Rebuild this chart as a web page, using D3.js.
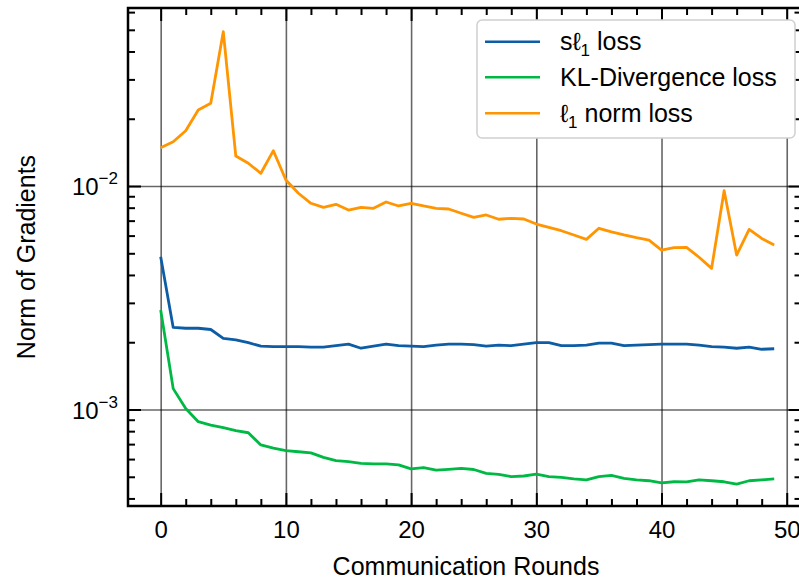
<!DOCTYPE html>
<meta charset="UTF-8">
<style>
    body { margin: 0; background: #fff; }
    text { font-family: "Liberation Sans", Arial, sans-serif; fill: #000; }
    .series { fill: none; stroke-width: 2.8px; stroke-linejoin: round; }
    .grid line { stroke: #000; stroke-opacity: 0.6; stroke-width: 1.6px; }
    .grid path, .ticks path, .labels path { display: none; }
    .ticks line { stroke: #000; stroke-width: 2px; }
    .labels line { display: none; }
</style>
<body>
<script src="https://d3js.org/d3.v7.min.js"></script>
<script>

// communication rounds (x)
var rounds = d3.range(0, 50);

// norm of gradients per loss
var sl1Loss = [0.00483, 0.00233, 0.00231, 0.00231, 0.00228, 0.00208, 0.00205, 0.00199, 0.00192, 0.00191,
    0.00191, 0.00191, 0.00190, 0.00190, 0.00193, 0.00196, 0.00188, 0.00192, 0.00196, 0.00193,
    0.00192, 0.00191, 0.00194, 0.00196, 0.00196, 0.00195, 0.00192, 0.00194, 0.00193, 0.00196,
    0.00199, 0.00199, 0.00193, 0.00193, 0.00194, 0.00198, 0.00198, 0.00193, 0.00194, 0.00195,
    0.00196, 0.00196, 0.00196, 0.00194, 0.00191, 0.00190, 0.00188, 0.00190, 0.00186, 0.00187];

var klLoss = [0.00279, 0.00124, 0.00101, 0.000882, 0.000852, 0.000829, 0.000804, 0.000787, 0.000694, 0.000671,
    0.000654, 0.000647, 0.000640, 0.000611, 0.000590, 0.000584, 0.000574, 0.000571, 0.000571, 0.000565,
    0.000542, 0.000550, 0.000535, 0.000540, 0.000545, 0.000539, 0.000518, 0.000513, 0.000501, 0.000504,
    0.000514, 0.000501, 0.000497, 0.000489, 0.000484, 0.000501, 0.000507, 0.000492, 0.000484, 0.000480,
    0.000470, 0.000475, 0.000474, 0.000484, 0.000480, 0.000475, 0.000464, 0.000480, 0.000484, 0.000489];

var l1NormLoss = [0.01484, 0.01578, 0.01768, 0.02188, 0.02344, 0.04902, 0.01362, 0.01264, 0.01140, 0.01439,
    0.01064, 0.00928, 0.00837, 0.00803, 0.00828, 0.00781, 0.00803, 0.00795, 0.00848, 0.00814,
    0.00837, 0.00814, 0.00795, 0.00789, 0.00755, 0.00724, 0.00742, 0.00710, 0.00717, 0.00712,
    0.00676, 0.00653, 0.00631, 0.00604, 0.00577, 0.00647, 0.00624, 0.00604, 0.00587, 0.00573,
    0.00517, 0.00530, 0.00531, 0.00480, 0.00428, 0.00953, 0.00491, 0.00640, 0.00583, 0.00545];

var seriesNames = ["s\u2113|1| loss", "KL-Divergence loss", "\u2113|1| norm loss"];
var seriesColors = ["#0C5DA5", "#00B945", "#FF9500"];

// tick values
var xMajor = [0, 10, 20, 30, 40, 50];
var xMinor = [2, 4, 6, 8, 12, 14, 16, 18, 22, 24, 26, 28, 32, 34, 36, 38, 42, 44, 46, 48];
var yMajor = [0.001, 0.01];
var yExp = ["\u22123", "\u22122"];
var yMinor = [4e-4, 5e-4, 6e-4, 7e-4, 8e-4, 9e-4, 2e-3, 3e-3, 4e-3, 5e-3, 6e-3, 7e-3, 8e-3, 9e-3,
    2e-2, 3e-2, 4e-2, 5e-2, 6e-2];

// plot box (right spine sits just past the picture edge)
var boxLeft = 128, boxTop = 8, boxRight = 801.5, boxBottom = 506;

var x = d3.scaleLinear().domain([-2.61, 51.18]).range([boxLeft, boxRight]);
var y = d3.scaleLog().domain([0.00037, 0.0626]).range([boxBottom, boxTop]);

var svg = d3.select("body").append("svg")
    .attr("width", 799)
    .attr("height", 580);

// grid
svg.append("g")
    .attr("class", "grid")
    .attr("transform", "translate(0," + boxBottom + ")")
    .call(d3.axisBottom(x).tickValues(xMajor).tickSize(-(boxBottom - boxTop)).tickFormat(""));
svg.append("g")
    .attr("class", "grid")
    .attr("transform", "translate(" + boxLeft + ",0)")
    .call(d3.axisLeft(y).tickValues(yMajor).tickSize(-(boxRight - boxLeft)).tickFormat(""));

// lines
var allSeries = [sl1Loss, klLoss, l1NormLoss];
var line = d3.line()
    .x(function(d, i) { return x(rounds[i]); })
    .y(function(d) { return y(d); });

svg.selectAll(".series")
    .data(allSeries)
    .enter().append("path")
    .attr("class", "series")
    .attr("stroke", function(d, i) { return seriesColors[i]; })
    .attr("d", line);

// ticks, pointing inward on all four sides
function addTicks(axis, tx, ty) {
    svg.append("g")
        .attr("class", "ticks")
        .attr("transform", "translate(" + tx + "," + ty + ")")
        .call(axis);
}
addTicks(d3.axisBottom(x).tickValues(xMajor).tickSize(-13).tickFormat(""), 0, boxBottom);
addTicks(d3.axisBottom(x).tickValues(xMinor).tickSize(-7).tickFormat(""), 0, boxBottom);
addTicks(d3.axisTop(x).tickValues(xMajor).tickSize(-13).tickFormat(""), 0, boxTop);
addTicks(d3.axisTop(x).tickValues(xMinor).tickSize(-7).tickFormat(""), 0, boxTop);
addTicks(d3.axisLeft(y).tickValues(yMajor).tickSize(-13).tickFormat(""), boxLeft, 0);
addTicks(d3.axisLeft(y).tickValues(yMinor).tickSize(-7).tickFormat(""), boxLeft, 0);
addTicks(d3.axisRight(y).tickValues(yMajor).tickSize(-13).tickFormat(""), boxRight, 0);
addTicks(d3.axisRight(y).tickValues(yMinor).tickSize(-7).tickFormat(""), boxRight, 0);

// spines
svg.append("rect")
    .attr("x", boxLeft)
    .attr("y", boxTop)
    .attr("width", boxRight - boxLeft)
    .attr("height", boxBottom - boxTop)
    .attr("fill", "none")
    .attr("stroke", "#000")
    .attr("stroke-width", 2.5);

// x tick labels
svg.append("g")
    .attr("class", "labels")
    .attr("transform", "translate(0," + boxBottom + ")")
    .call(d3.axisBottom(x).tickValues(xMajor).tickSize(0).tickPadding(15))
    .selectAll("text")
    .style("font-size", "24px");

// y tick labels as 10^n
var yLab = svg.selectAll(".ylab")
    .data(yMajor)
    .enter().append("text")
    .attr("class", "ylab")
    .attr("text-anchor", "end")
    .attr("x", 118)
    .attr("y", function(d) { return y(d) + 9; })
    .style("font-size", "24px");
yLab.append("tspan").text("10");
yLab.append("tspan")
    .attr("dy", -11)
    .style("font-size", "17px")
    .text(function(d, i) { return yExp[i]; });

// axis titles
svg.append("text")
    .attr("x", 466)
    .attr("y", 575)
    .attr("text-anchor", "middle")
    .style("font-size", "25px")
    .text("Communication Rounds");

svg.append("text")
    .attr("transform", "translate(35," + ((boxTop + boxBottom) / 2) + ") rotate(-90)")
    .attr("text-anchor", "middle")
    .style("font-size", "25px")
    .text("Norm of Gradients");

// legend
var legend = svg.append("g");
legend.append("rect")
    .attr("x", 477)
    .attr("y", 20)
    .attr("width", 318)
    .attr("height", 118)
    .attr("rx", 5)
    .attr("fill", "#fff")
    .attr("stroke", "#d0d0d0")
    .attr("stroke-width", 1.5);

var rowY = [41.7, 77.3, 113.3];
seriesNames.forEach(function(name, i) {
    legend.append("line")
        .attr("x1", 485).attr("x2", 540)
        .attr("y1", rowY[i]).attr("y2", rowY[i])
        .attr("stroke", seriesColors[i])
        .attr("stroke-width", 2.5);
    var t = legend.append("text")
        .attr("x", 560)
        .attr("y", rowY[i] + 8.5)
        .style("font-size", "25px");
    // "|1|" marks a subscript one
    var parts = name.split("|");
    t.append("tspan").text(parts[0]);
    if (parts.length > 1) {
        t.append("tspan").attr("dy", 6).style("font-size", "17px").text(parts[1]);
        t.append("tspan").attr("dy", -6).text(parts[2]);
    }
});

</script>
</body>
